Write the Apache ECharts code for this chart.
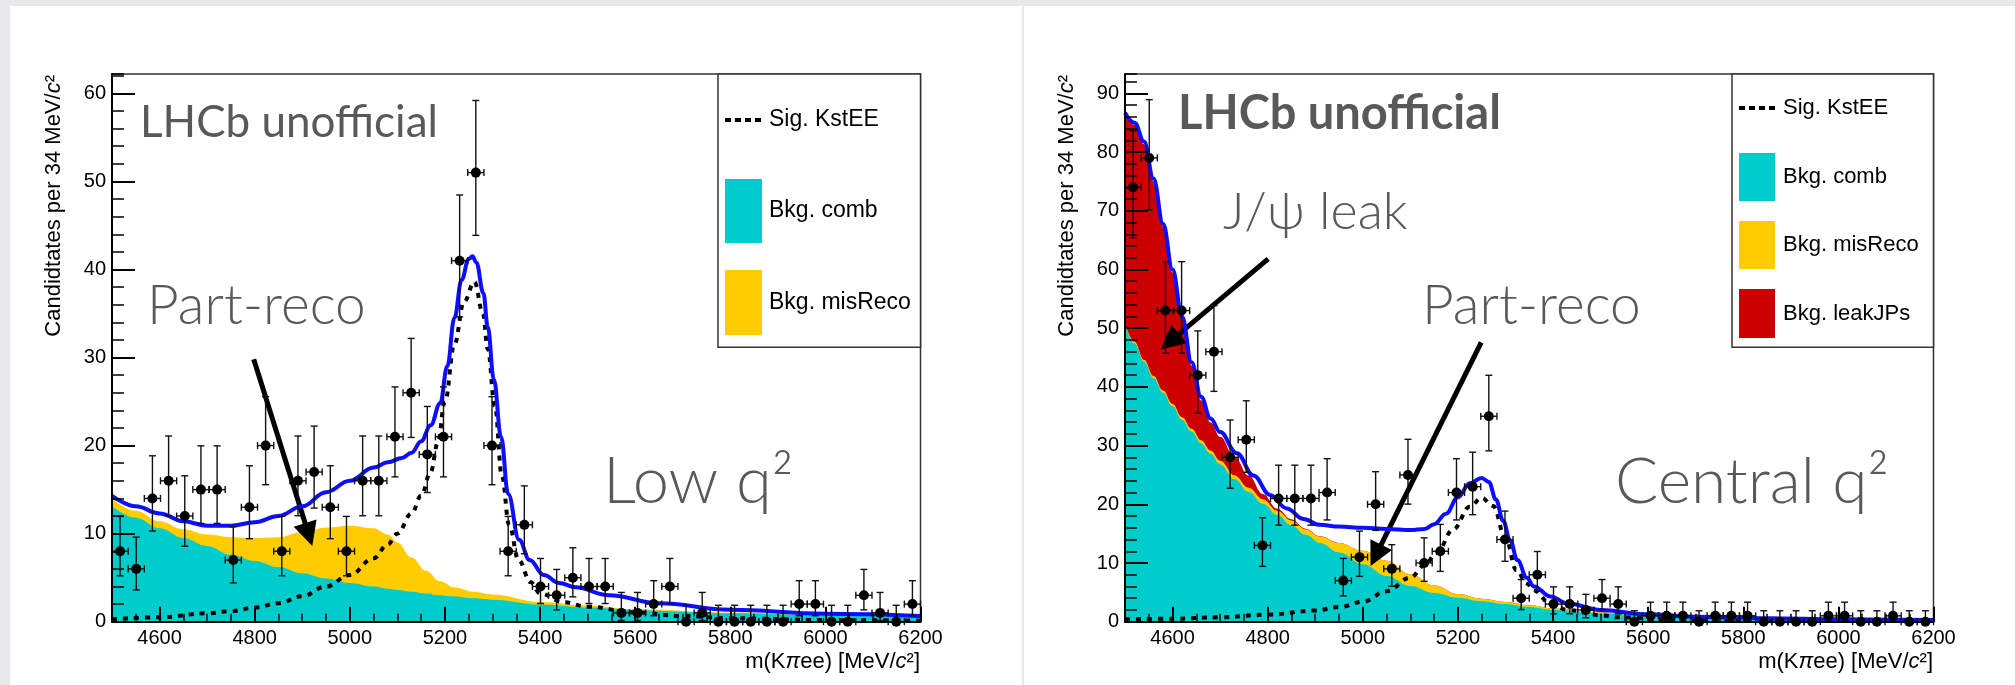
<!DOCTYPE html>
<html>
<head>
<meta charset="utf-8">
<title>B0 → K*ee mass fits</title>
<script src="https://cdn.jsdelivr.net/npm/echarts@6.0.0/dist/echarts.min.js"></script>
<style>
  html, body { margin: 0; padding: 0; background: #e6e9ec; width: 2015px; height: 685px; overflow: hidden; }
  .panel { position: absolute; background: #ffffff; }
  #panelA { left: 10px; top: 6px; width: 1012px; height: 679px; }
  #panelB { left: 1024px; top: 6px; width: 991px; height: 679px; }
  #chart { position: absolute; left: 0; top: 0; width: 2015px; height: 685px; }
</style>
</head>
<body>
<div class="panel" id="panelA"></div>
<div class="panel" id="panelB"></div>
<div id="chart"></div>
<script>
// ---------------- binned data (34 MeV bins from 4500 to 6200) ----------------
const binCenters = [4517, 4551, 4585, 4619, 4653, 4687, 4721, 4755, 4789, 4823,
                    4857, 4891, 4925, 4959, 4993, 5027, 5061, 5095, 5129, 5163,
                    5197, 5231, 5265, 5299, 5333, 5367, 5401, 5435, 5469, 5503,
                    5537, 5571, 5605, 5639, 5673, 5707, 5741, 5775, 5809, 5843,
                    5877, 5911, 5945, 5979, 6013, 6047, 6081, 6115, 6149, 6183];
const HALF_BIN = 17;

const lowCounts = [8, 6, 14, 16, 12, 15, 15, 7, 13, 20,
                   8, 16, 17, 13, 8, 16, 16, 21, 26, 19,
                   21, 41, 51, 20, 8, 11, 4, 3, 5, 4,
                   4, 1, 1, 2, 4, 0, 1, 0, 0, 0,
                   0, 0, 2, 2, 0, 0, 3, 1, 0, 2];

const centralCounts = [74, 79, 53, 53, 42, 46, 28, 31, 13, 21,
                       21, 21, 22, 7, 11, 20, 9, 25, 10, 12,
                       22, 23, 35, 14, 4, 8, 3, 3, 2, 4,
                       3, 0, 1, 1, 1, 0, 1, 1, 1, 0,
                       0, 0, 0, 1, 1, 0, 0, 1, 0, 0];

// ---------------- fit components, low q2 ----------------
const lowBkgMass = [4500, 4550, 4600, 4650, 4700, 4750, 4800, 4850, 4900, 4950, 5000, 5050, 5080,
                    5100, 5130, 5160, 5190, 5220, 5260, 5300, 5400, 5500, 5600, 5800, 6000, 6200];
const lowComb = [13.1, 11.8, 10.6, 9.5, 8.6, 7.6, 6.9, 6.2, 5.5, 4.9, 4.4, 4.0, 3.75,
                 3.6, 3.4, 3.2, 3.0, 2.85, 2.65, 2.5, 1.95, 1.6, 1.3, 0.95, 0.7, 0.5];
const lowMisReco = [0.9, 0.8, 0.8, 1.0, 1.3, 2.0, 2.6, 3.4, 4.7, 5.8, 6.5, 6.6, 6.15,
                    5.4, 3.9, 2.6, 1.6, 1.05, 0.75, 0.6, 0.3, 0.25, 0.12, 0.1, 0.07, 0.05];

const lowSigMass = [4500, 4600, 4700, 4750, 4800, 4850, 4900, 4950, 5000, 5050,
                    5080, 5100, 5130, 5150, 5170, 5185, 5200, 5220, 5240, 5262,
                    5280, 5290, 5305, 5320, 5335, 5355, 5380, 5400, 5450, 5500,
                    5600, 5700, 5800, 6000, 6200];
const lowSig = [0.27, 0.5, 0.95, 1.2, 1.6, 2.1, 2.9, 4.0, 5.3, 7.2,
                8.8, 10.0, 12.3, 14.3, 17.0, 20.3, 25.0, 31.5, 36.3, 38.6,
                35, 31, 24.5, 16.5, 11.0, 7.0, 4.5, 3.2, 2.2, 1.7,
                1.05, 0.65, 0.4, 0.18, 0.12];

const lowTotMass = [4500, 4550, 4600, 4650, 4700, 4750, 4800, 4850, 4900, 4950,
                    5000, 5050, 5080, 5110, 5130, 5150, 5170, 5190, 5205, 5220,
                    5235, 5250, 5258, 5266, 5281, 5290, 5303, 5318, 5333, 5356,
                    5378, 5408, 5440, 5475, 5545, 5650, 5800, 6000, 6200];
const lowTot = [14.3, 13.1, 12.3, 11.4, 10.9, 10.9, 11.3, 12.0, 13.1, 14.7,
                16.0, 17.5, 18.1, 18.6, 19.2, 20.5, 22.3, 24.8, 29, 34.5,
                38.8, 41.2, 41.5, 40.8, 37.3, 33.5, 27.5, 21.0, 14.5, 9.3,
                7.0, 5.3, 4.4, 3.9, 3.0, 2.1, 1.35, 0.9, 0.65];

// ---------------- fit components, central q2 ----------------
const cenBkgMass = [4500, 4520, 4540, 4560, 4580, 4600, 4620, 4640, 4660, 4680,
                    4700, 4730, 4760, 4790, 4820, 4850, 4880, 4910, 4950, 5000,
                    5050, 5100, 5150, 5200, 5250, 5300, 5350, 5400, 5500, 5600,
                    5800, 6000, 6200];
const cenComb = [50.5, 47.4, 44.3, 41.5, 39.0, 36.7, 34.4, 32.4, 30.4, 28.6,
                 26.8, 24.3, 22.1, 20.1, 18.2, 16.4, 14.8, 13.4, 11.8, 9.8,
                 7.8, 6.1, 4.9, 4.1, 3.5, 3.0, 2.5, 2.0, 1.4, 1.0,
                 0.55, 0.35, 0.25];
const cenMisReco = [0.3, 0.3, 0.32, 0.35, 0.38, 0.4, 0.42, 0.45, 0.5, 0.55,
                    0.6, 0.65, 0.7, 0.75, 0.7, 0.85, 0.95, 1.1, 1.6, 2.3,
                    2.6, 2.0, 1.3, 0.6, 0.4, 0.35, 0.3, 0.25, 0.18, 0.12,
                    0.06, 0.04, 0.03];
const cenLeak = [35.5, 36.9, 36.7, 33.2, 28.0, 22.4, 16.7, 10.8, 6.8, 4.8,
                 4.1, 3.2, 2.1, 0.9, 0.35, 0.2, 0.1, 0.05, 0.02, 0,
                 0, 0, 0, 0, 0, 0, 0, 0, 0, 0,
                 0, 0, 0];

const cenSigMass = [4500, 4600, 4700, 4800, 4900, 4950, 5000, 5050, 5100, 5130,
                    5155, 5190, 5225, 5250, 5274, 5300, 5323, 5345, 5360, 5394,
                    5430, 5500, 5535, 5640, 5850, 6200];
const cenSig = [0.4, 0.5, 0.75, 1.2, 1.9, 2.5, 3.4, 5.2, 7.5, 9.6,
                11.7, 15.7, 19.6, 21.1, 19.7, 14.3, 8.8, 6.5, 5.3, 3.1,
                2.0, 1.1, 0.75, 0.4, 0.25, 0.15];

const cenTotMass = [4500, 4520, 4540, 4560, 4580, 4600, 4620, 4640, 4660, 4680,
                    4700, 4735, 4770, 4805, 4840, 4875, 4910, 4950, 5000, 5050,
                    5100, 5130, 5150, 5175, 5200, 5225, 5250, 5265, 5280, 5295,
                    5310, 5325, 5345, 5360, 5395, 5430, 5500, 5600, 5700, 5850,
                    6000, 6200];
const cenTot = [86.7, 85.0, 81.8, 75.5, 67.8, 60.0, 52.0, 44.2, 38.3, 34.6,
                32.3, 28.7, 24.9, 21.6, 19.3, 17.5, 16.5, 16.2, 16.0, 15.8,
                15.6, 15.8, 16.6, 18.4, 21.2, 23.6, 24.5, 23.8, 20.8, 17.2,
                13.8, 10.5, 7.5, 6.0, 4.3, 3.1, 2.0, 1.25, 0.85, 0.57,
                0.4, 0.3];

// axis ticks
const xTickLabels = ['4600', '4800', '5000', '5200', '5400', '5600', '5800', '6000', '6200'];

// ---------------- helpers ----------------
const pairs = (xs, ys) => xs.map((x, i) => [x, ys[i]]);
// running sum of stacked background components (drawn back to front)
const stackSum = (...parts) => parts[0].map((_, i) => parts.reduce((s, p) => s + p[i], 0));

// Poisson (Garwood-like) 68% interval for a bin count
function poissonPoint(x, n) {
  const lo = n > 0 ? n - Math.sqrt(n - 0.25) : 0;
  const hi = n + 1 + Math.sqrt(n + 0.75);
  return [x, n, lo, hi];
}
const pointsOf = counts => binCenters.map((x, i) => poissonPoint(x, counts[i]));

function renderPoint(params, api) {
  const x = api.value(0), n = api.value(1), lo = api.value(2), hi = api.value(3);
  const c = api.coord([x, n]);
  const top = api.coord([x, hi]);
  const bot = api.coord([x, lo]);
  const l = api.coord([x - HALF_BIN, n]);
  const r = api.coord([x + HALF_BIN, n]);
  const st = { stroke: '#111', lineWidth: 1.4 };
  const cap = 3.5;
  return {
    type: 'group',
    children: [
      { type: 'line', shape: { x1: c[0], y1: top[1], x2: c[0], y2: bot[1] }, style: st },
      { type: 'line', shape: { x1: c[0] - cap, y1: top[1], x2: c[0] + cap, y2: top[1] }, style: st },
      { type: 'line', shape: { x1: c[0] - cap, y1: bot[1], x2: c[0] + cap, y2: bot[1] }, style: st },
      { type: 'line', shape: { x1: l[0], y1: c[1], x2: r[0], y2: c[1] }, style: st },
      { type: 'line', shape: { x1: l[0], y1: c[1] - cap, x2: l[0], y2: c[1] + cap }, style: st },
      { type: 'line', shape: { x1: r[0], y1: c[1] - cap, x2: r[0], y2: c[1] + cap }, style: st },
      { type: 'circle', shape: { cx: c[0], cy: c[1], r: 5 }, style: { fill: '#000' } }
    ]
  };
}

// ---------------- styling ----------------
const SANS = "'Liberation Sans', Arial, Helvetica, sans-serif";
const TITLE_FONT = "Lato, 'Open Sans', 'DejaVu Sans', sans-serif";
const CYAN = '#00cccc', YELLOW = '#ffcc00', RED = '#cc0000', BLUE = '#0d0dff';
const GREY_TEXT = '#595959';

const GRID_TOP = 74, GRID_H = 547.7, GRID_W = 808.5;

function xAxes(grid) {
  return [
    {
      gridIndex: grid, type: 'value', min: 4500, max: 6200, splitNumber: 8, position: 'bottom', z: 10,
      axisLine: { lineStyle: { color: '#000', width: 2 } },
      axisTick: { inside: true, length: 15, lineStyle: { color: '#000', width: 2 } },
      axisLabel: {
        fontFamily: SANS, fontSize: 20, color: '#000', margin: 7, showMinLabel: false,
        formatter: v => (xTickLabels.indexOf(String(v)) >= 0 ? String(v) : '')
      },
      splitLine: { show: false }
    },
    {
      gridIndex: grid, type: 'value', min: 4500, max: 6200, interval: 50, position: 'bottom', z: 10,
      axisLine: { show: false },
      axisTick: { inside: true, length: 8, lineStyle: { color: '#000', width: 1.5 } },
      axisLabel: { show: false },
      splitLine: { show: false }
    }
  ];
}

function yAxes(grid, yMax) {
  return [
    {
      gridIndex: grid, type: 'value', min: 0, max: yMax, interval: 10, position: 'left', z: 10,
      axisLine: { lineStyle: { color: '#000', width: 2 } },
      axisTick: { inside: true, length: 23, lineStyle: { color: '#000', width: 2 } },
      axisLabel: { fontFamily: SANS, fontSize: 20, color: '#000', margin: 6, showMaxLabel: false },
      splitLine: { show: false }
    },
    {
      gridIndex: grid, type: 'value', min: 0, max: yMax, interval: 2, position: 'left', z: 10,
      axisLine: { show: false },
      axisTick: { inside: true, length: 12, lineStyle: { color: '#000', width: 1.5 } },
      axisLabel: { show: false },
      splitLine: { show: false }
    }
  ];
}

// filled area from zero up to a (cumulative) background level
function area(name, xi, yi, xs, ys, color) {
  return {
    name, type: 'line', xAxisIndex: xi, yAxisIndex: yi, data: pairs(xs, ys),
    smooth: 0.4, smoothMonotone: 'x', showSymbol: false, symbol: 'none', z: 2,
    lineStyle: { width: 0, color }, areaStyle: { color, opacity: 1, origin: 'start' }, silent: true
  };
}

function arrowLines(segments) {
  return {
    silent: true, symbol: ['none', 'triangle'], symbolSize: 24,
    label: { show: false }, lineStyle: { color: '#000', width: 5, type: 'solid' },
    data: segments.map(s => [{ coord: s[0] }, { coord: s[1] }])
  };
}

function signal(name, xi, yi, xs, ys, arrows) {
  return {
    name, type: 'line', xAxisIndex: xi, yAxisIndex: yi, data: pairs(xs, ys),
    smooth: 0.4, smoothMonotone: 'x', showSymbol: false, symbol: 'none', z: 4, silent: true,
    lineStyle: { color: '#000', width: 4, type: [5, 6], cap: 'butt' },
    markLine: arrows
  };
}

function total(name, xi, yi, xs, ys) {
  return {
    name, type: 'line', xAxisIndex: xi, yAxisIndex: yi, data: pairs(xs, ys),
    smooth: 0.4, smoothMonotone: 'x', showSymbol: false, symbol: 'none', z: 5, silent: true,
    lineStyle: { color: BLUE, width: 4 }
  };
}

function points(name, xi, yi, counts) {
  return {
    name, type: 'custom', xAxisIndex: xi, yAxisIndex: yi, z: 6, silent: true,
    renderItem: renderPoint, data: pointsOf(counts), encode: { x: 0, y: 1 }
  };
}

// ---------------- text & legend graphics ----------------
function txt(x, y, text, size, weight, family, fill, align) {
  return {
    type: 'text', x, y, z: 30, silent: true,
    style: { text, fontSize: size, fontWeight: weight, fontFamily: family, fill,
             align: align || 'left', verticalAlign: 'middle' }
  };
}

function yTitle(x) {
  return {
    type: 'text', x, y: 75, rotation: Math.PI / 2, z: 30, silent: true,
    style: {
      text: '{n|Candidtates per 34 MeV/}{i|c}{n|²}', align: 'right', verticalAlign: 'middle',
      rich: {
        n: { fontFamily: SANS, fontSize: 22, fill: '#000' },
        i: { fontFamily: SANS, fontSize: 22, fontStyle: 'italic', fill: '#000' }
      }
    }
  };
}

function xTitle(x) {
  return {
    type: 'text', x, y: 662, z: 30, silent: true,
    style: {
      text: '{n|m(K}{p|π}{n|ee) [MeV/}{i|c}{n|²]}', align: 'right', verticalAlign: 'middle',
      rich: {
        n: { fontFamily: SANS, fontSize: 22, fill: '#000' },
        p: { fontFamily: SANS, fontSize: 22, fontStyle: 'italic', fill: '#000' },
        i: { fontFamily: SANS, fontSize: 22, fontStyle: 'italic', fill: '#000' }
      }
    }
  };
}

function legendBox(x0, x1, fontSize, entries, sigY, sampleX0, sampleX1, textX) {
  const g = [
    { type: 'rect', z: 20, silent: true, shape: { x: x0, y: 74, width: x1 - x0, height: 273.3 },
      style: { fill: '#fff', stroke: '#333', lineWidth: 1.5 } },
    { type: 'line', z: 21, silent: true, shape: { x1: sampleX0, y1: sigY, x2: sampleX1, y2: sigY },
      style: { stroke: '#000', lineWidth: 4, lineDash: [6, 4] } },
    txt(textX, sigY, 'Sig. KstEE', fontSize, 400, SANS, '#000')
  ];
  entries.forEach(e => {
    g.push({ type: 'rect', z: 21, silent: true,
             shape: { x: sampleX0, y: e.y0, width: sampleX1 - sampleX0, height: e.y1 - e.y0 },
             style: { fill: e.color } });
    g.push(txt(textX, (e.y0 + e.y1) / 2, e.label, fontSize, 400, SANS, '#000'));
  });
  return g;
}

const graphics = [].concat(
  // low q2 panel
  [
    yTitle(54),
    xTitle(920),
    txt(140, 140 - 0.387 * 44, 'LHCb unofficial', 44, 400, TITLE_FONT, GREY_TEXT),
    txt(147, 328 - 0.387 * 55, 'Part-reco', 55, 300, TITLE_FONT, GREY_TEXT),
    txt(603, 507 - 0.387 * 65, 'Low q²', 65, 300, TITLE_FONT, GREY_TEXT)
  ],
  legendBox(718, 920.5, 23, [
    { y0: 179, y1: 243, color: CYAN, label: 'Bkg. comb' },
    { y0: 270, y1: 335, color: YELLOW, label: 'Bkg. misReco' }
  ], 120, 725, 762, 769),
  // central q2 panel
  [
    yTitle(1067),
    xTitle(1933),
    txt(1178, 132 - 0.387 * 47, 'LHCb unofficial', 47, 700, TITLE_FONT, GREY_TEXT),
    txt(1223, 232 - 0.387 * 52, 'J/ψ leak', 52, 300, TITLE_FONT, GREY_TEXT),
    txt(1422, 328 - 0.387 * 55, 'Part-reco', 55, 300, TITLE_FONT, GREY_TEXT),
    txt(1615, 507 - 0.387 * 64, 'Central q²', 64, 300, TITLE_FONT, GREY_TEXT)
  ],
  legendBox(1732, 1933.5, 22, [
    { y0: 153, y1: 201, color: CYAN, label: 'Bkg. comb' },
    { y0: 221, y1: 269, color: YELLOW, label: 'Bkg. misReco' },
    { y0: 289, y1: 338, color: RED, label: 'Bkg. leakJPs' }
  ], 108, 1739, 1775, 1783)
);

const lowMisTop = stackSum(lowComb, lowMisReco);
const cenMisTop = stackSum(cenComb, cenMisReco);
const cenLeakTop = stackSum(cenComb, cenMisReco, cenLeak);

const option = {
  animation: false,
  backgroundColor: 'transparent',
  grid: [
    { left: 112, top: GRID_TOP, width: GRID_W, height: GRID_H, show: true,
      borderColor: '#333', borderWidth: 1.5, backgroundColor: 'transparent' },
    { left: 1125, top: GRID_TOP, width: GRID_W, height: GRID_H, show: true,
      borderColor: '#333', borderWidth: 1.5, backgroundColor: 'transparent' }
  ],
  xAxis: [].concat(xAxes(0), xAxes(1)),
  yAxis: [].concat(yAxes(0, 62.2), yAxes(1, 93.3)),
  graphic: graphics,
  series: [
    // low q2: stacked backgrounds drawn back to front
    area('Bkg. misReco', 0, 0, lowBkgMass, lowMisTop, YELLOW),
    area('Bkg. comb', 0, 0, lowBkgMass, lowComb, CYAN),
    signal('Sig. KstEE', 0, 0, lowSigMass, lowSig,
           arrowLines([[[4798, 29.8], [4913.6, 9.9]]])),
    total('Total fit', 0, 0, lowTotMass, lowTot),
    points('Data', 0, 0, lowCounts),
    // central q2
    area('Bkg. leakJPs', 2, 2, cenBkgMass, cenLeakTop, RED),
    area('Bkg. misReco', 2, 2, cenBkgMass, cenMisTop, YELLOW),
    area('Bkg. comb', 2, 2, cenBkgMass, cenComb, CYAN),
    signal('Sig. KstEE', 2, 2, cenSigMass, cenSig,
           arrowLines([[[4801, 61.8], [4594.5, 47.7]], [[5249, 47.6], [5027.5, 11.3]]])),
    total('Total fit', 2, 2, cenTotMass, cenTot),
    points('Data', 2, 2, centralCounts)
  ]
};

const chart = echarts.init(document.getElementById('chart'), null, { renderer: 'canvas' });
chart.setOption(option);
</script>
</body>
</html>
